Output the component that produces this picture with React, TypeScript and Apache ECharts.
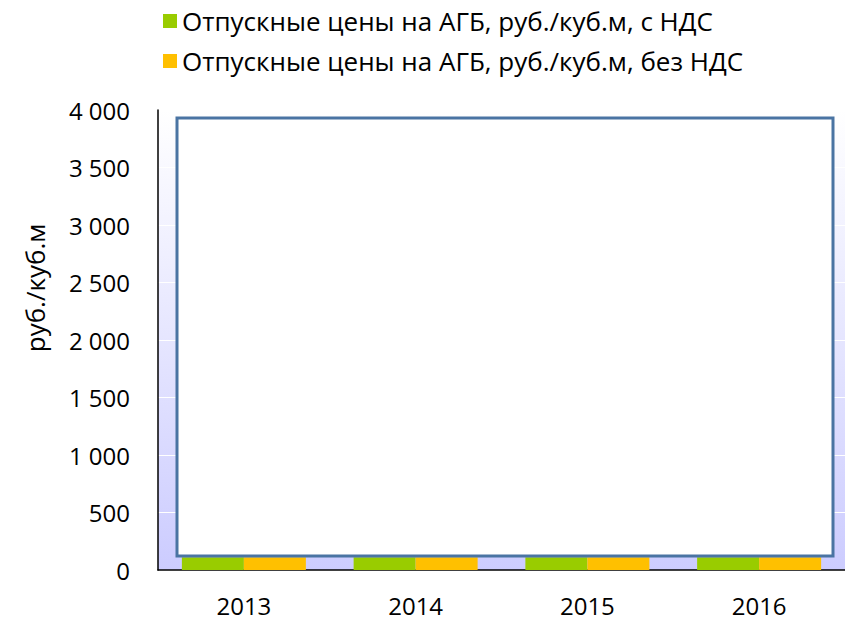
import React, { useEffect, useRef } from "react";
import * as echarts from "echarts";

const categories = ["2013", "2014", "2015", "2016"];
const seriesNames = [
  "Отпускные цены на АГБ, руб./куб.м, с НДС",
  "Отпускные цены на АГБ, руб./куб.м, без НДС",
];
const withVat = [110, 110, 110, 110];
const withoutVat = [110, 110, 110, 110];
const yTicks = { min: 0, max: 4000, interval: 500 };
const yAxisTitle = "руб./куб.м";

const fmt = (v: number) => String(v).replace(/\B(?=(\d{3})+(?!\d))/g, " ");

export default function App() {
  const ref = useRef<HTMLDivElement>(null);
  useEffect(() => {
    document.body.style.margin = "0";
    const chart = echarts.init(ref.current!, null, { renderer: "svg" });
    const font = "Open Sans, Noto Sans, sans-serif";
    chart.setOption({
      animation: false,
      backgroundColor: "#fff",
      textStyle: { fontFamily: font },
      legend: {
        orient: "vertical",
        left: 158,
        top: 3,
        itemWidth: 14,
        itemHeight: 14,
        itemGap: 14,
        icon: "rect",
        textStyle: { fontSize: 26, color: "#000", fontFamily: font },
        data: seriesNames,
      },
      grid: {
        left: 158,
        right: 0,
        top: 110,
        bottom: 50,
        show: true,
        borderWidth: 0,
        backgroundColor: new echarts.graphic.LinearGradient(0, 0, 0, 1, [
          { offset: 0, color: "#ffffff" },
          { offset: 1, color: "#CCCCFF" },
        ]),
      },
      xAxis: {
        type: "category",
        data: categories,
        axisLine: { lineStyle: { color: "#000", width: 1.5 } },
        axisTick: { show: false },
        axisLabel: { fontSize: 24, color: "#000", margin: 23, fontFamily: font },
      },
      yAxis: {
        type: "value",
        min: yTicks.min,
        max: yTicks.max,
        interval: yTicks.interval,
        axisLine: { show: true, lineStyle: { color: "#000", width: 1.5 } },
        axisTick: { show: false },
        splitLine: { lineStyle: { color: "#ffffff", width: 1 } },
        axisLabel: {
          fontSize: 24,
          color: "#000",
          margin: 28,
          fontFamily: font,
          formatter: (v: number) => fmt(v),
        },
      },
      series: [
        {
          name: seriesNames[0],
          type: "bar",
          data: withVat,
          barWidth: 62,
          barGap: "0%",
          itemStyle: { color: "#99CC00" },
        },
        {
          name: seriesNames[1],
          type: "bar",
          data: withoutVat,
          barWidth: 62,
          barGap: "0%",
          itemStyle: { color: "#FFC000" },
        },
      ],
      graphic: [
        {
          type: "rect",
          shape: { x: 177, y: 118, width: 656, height: 438 },
          style: { fill: "#ffffff", stroke: "#4A74A3", lineWidth: 3 },
          z: 100,
        },
        {
          type: "text",
          x: 35,
          y: 288,
          rotation: Math.PI / 2,
          style: {
            text: yAxisTitle,
            fontSize: 26,
            fontFamily: font,
            fill: "#000",
            align: "center",
            verticalAlign: "middle",
          },
        },
      ],
    });
    return () => chart.dispose();
  }, []);
  return <div ref={ref} style={{ width: 845, height: 620 }} />;
}
